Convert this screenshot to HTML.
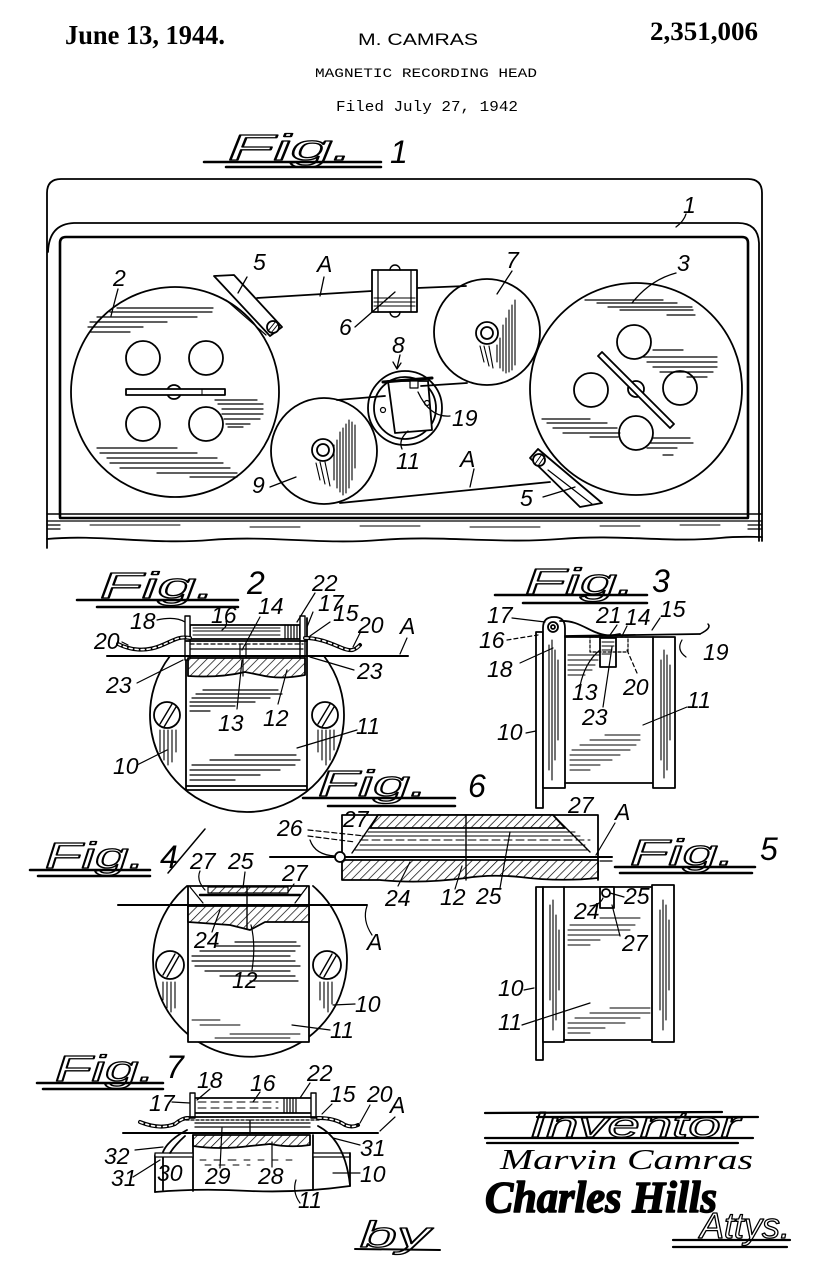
<!DOCTYPE html>
<html><head><meta charset="utf-8"><style>
html,body{margin:0;padding:0;background:#fff;}
svg{display:block;}
.l{font-family:"Liberation Sans",sans-serif;font-style:italic;font-size:23px;fill:#000;stroke:none;}
.f{font-family:"Liberation Sans",sans-serif;font-style:italic;font-size:36px;fill:none;stroke:#000;stroke-width:1.3px;}
.fn{font-family:"Liberation Sans",sans-serif;font-style:italic;font-size:32px;fill:#000;stroke:none;}
</style></head><body>
<svg width="816" height="1280" viewBox="0 0 816 1280" xmlns="http://www.w3.org/2000/svg">
<defs>
<pattern id="h" width="6" height="6" patternUnits="userSpaceOnUse" patternTransform="rotate(45)">
<rect width="6" height="6" fill="#fff"/>
<line x1="0" y1="0" x2="0" y2="6" stroke="#000" stroke-width="1.4"/>
</pattern>
</defs>
<rect width="816" height="1280" fill="#fff"/>

<!-- HEADER -->
<text x="65" y="44" font-family="Liberation Serif" font-weight="bold" font-size="27" textLength="160" lengthAdjust="spacingAndGlyphs">June 13, 1944.</text>
<text x="358" y="45" font-family="Liberation Sans" font-size="17" textLength="120" lengthAdjust="spacingAndGlyphs">M. CAMRAS</text>
<text x="650" y="40" font-family="Liberation Serif" font-weight="bold" font-size="26" textLength="108" lengthAdjust="spacingAndGlyphs">2,351,006</text>
<text x="315" y="77" font-family="Liberation Mono" font-size="13" textLength="222" lengthAdjust="spacingAndGlyphs">MAGNETIC RECORDING HEAD</text>
<text x="336" y="111" font-family="Liberation Mono" font-size="15" textLength="182" lengthAdjust="spacingAndGlyphs">Filed July 27, 1942</text>

<g stroke="#000" fill="none" stroke-width="1.8" stroke-linecap="round" stroke-linejoin="round">

<!-- FIG LABELS -->
<text class="f" x="228" y="160" textLength="125" lengthAdjust="spacingAndGlyphs">Fig.</text>
<text class="fn" x="390" y="163">1</text>
<path d="M204,162 L381,162 M226,167 L381,167" stroke-width="2.5"/>

<text class="f" x="100" y="598" textLength="115" lengthAdjust="spacingAndGlyphs">Fig.</text>
<text class="fn" x="247" y="594">2</text>
<path d="M77,600 L238,600 M97,607 L238,607" stroke-width="2.5"/>

<text class="f" x="525" y="594" textLength="110" lengthAdjust="spacingAndGlyphs">Fig.</text>
<text class="fn" x="652" y="592">3</text>
<path d="M495,595 L647,595 M523,603 L647,603" stroke-width="2.5"/>

<text class="f" x="45" y="868" textLength="100" lengthAdjust="spacingAndGlyphs">Fig.</text>
<text class="fn" x="160" y="868">4</text>
<path d="M30,870 L150,870 M38,876 L150,876" stroke-width="2.5"/>
<path d="M168,873 L205,829" stroke-width="1.5"/>

<text class="f" x="630" y="865" textLength="105" lengthAdjust="spacingAndGlyphs">Fig.</text>
<text class="fn" x="760" y="860">5</text>
<path d="M615,867 L755,867 M620,873 L752,873" stroke-width="2.5"/>

<text class="f" x="318" y="796" textLength="110" lengthAdjust="spacingAndGlyphs">Fig.</text>
<text class="fn" x="468" y="797">6</text>
<path d="M303,798 L455,798 M328,806 L455,806" stroke-width="2.5"/>

<text class="f" x="55" y="1081" textLength="100" lengthAdjust="spacingAndGlyphs">Fig.</text>
<text class="fn" x="166" y="1078">7</text>
<path d="M37,1083 L163,1083 M43,1089 L163,1089" stroke-width="2.5"/>

<!-- ================= FIG 1 ================= -->
<path d="M47,548 L47,193 Q47,179 61,179 L748,179 Q762,179 762,193 L762,541"/>
<path d="M48,252 Q49,224 74,223 L738,223 Q758,223 759,243 L759,541"/>
<path d="M60,517 L60,243 Q60,237 66,237 L742,237 Q748,237 748,243 L748,517" stroke-width="2.6"/>
<path d="M47,514 L762,514" stroke-width="1.4"/>
<path d="M60,518 L748,518" stroke-width="2.4"/>
<path d="M47,521 L762,521" stroke-width="1.2"/>
<path d="M47,525 L60,525 M47,529 L60,529 M748,525 L762,525 M748,529 L762,529" stroke-width="1.2"/>
<path d="M90,525 L180,525 M250,527 L300,527 M360,526 L420,526 M470,527 L540,527 M600,526 L640,526 M680,525 L720,525" stroke-width="1"/>
<path d="M47,539 C100,534 150,545 210,540 C270,535 320,545 380,540 C440,535 500,544 560,539 C620,534 670,543 720,538 C740,536 752,537 762,537"/>

<!-- wheel 2 -->
<ellipse cx="175" cy="392" rx="104" ry="105"/>
<circle cx="143" cy="358" r="17"/><circle cx="206" cy="358" r="17"/>
<circle cx="143" cy="424" r="17"/><circle cx="206" cy="424" r="17"/>
<circle cx="174" cy="392" r="7"/>
<rect x="126" y="389" width="99" height="6" fill="#fff"/>
<path d="M202,389 L202,395" stroke-width="1"/>
<g stroke-width="1.2">
<path d="M117,308 L213,308 M110,312 L212,312 M97,317 L197,317 M90,322 L167,322 M88,327 L143,327 M90,332 L130,332"/>
<path d="M97,448 L177,448 M100,453 L197,453 M107,458 L217,458 M110,463 L223,463 M120,468 L230,468 M157,473 L237,473 M190,477 L237,477"/>
<path d="M215,400 L257,400 M218,404 L263,404 M222,409 L263,409 M222,414 L263,414 M224,419 L260,419 M226,424 L250,424 M228,427 L243,427"/>
</g>

<!-- guide 5 top -->
<polygon points="214,276 234,275 282,327 270,336" fill="#fff"/>
<path d="M226,300 L266,335" stroke-width="1.2"/>
<circle cx="273" cy="327" r="6" fill="#fff"/>
<path d="M268,331 L276,321 M271,333 L279,323" stroke-width="1"/>

<!-- tape top -->
<path d="M257,298 L372,291 M417,288 L466,286"/>

<!-- element 6 -->
<rect x="372" y="270" width="45" height="42" fill="#fff"/>
<path d="M378,270 L378,312 M411,270 L411,312" stroke-width="1.3"/>
<path d="M374,298 L415,298 M374,302 L415,302 M374,306 L415,306" stroke-width="1.1"/>
<path d="M390,270 A5,5 0 0 1 400,270 M390,312 A5,5 0 0 0 400,312" stroke-width="1.4"/>

<!-- wheel 7 -->
<circle cx="487" cy="332" r="53"/>
<circle cx="487" cy="333" r="11"/><circle cx="487" cy="333" r="6"/>
<path d="M497,345 L497,362 M500,338 L500,368 M503,325 L503,371 M506,318 L506,373 M509,310 L509,372 M512,305 L512,370 M515,300 L515,365 M480,346 L484,362 M484,346 L489,366 M489,346 L493,368" stroke-width="1.1"/>

<!-- wheel 9 -->
<circle cx="324" cy="451" r="53"/>
<circle cx="323" cy="450" r="11"/><circle cx="323" cy="450" r="6"/>
<path d="M334,445 L334,480 M337,440 L337,488 M340,432 L340,492 M343,428 L343,495 M346,424 L346,493 M349,420 L349,488 M352,422 L352,480 M355,425 L355,468 M316,463 L320,480 M320,462 L325,484 M325,462 L330,486" stroke-width="1.1"/>

<!-- head 8 -->
<circle cx="405" cy="408" r="37"/>
<circle cx="405" cy="408" r="31"/>
<polygon points="388,381 428,381 432,430 395,433" fill="#fff"/>
<path d="M383,382 L432,378" stroke-width="3"/>
<rect x="410" y="381" width="8" height="7" fill="#fff" stroke-width="1.2"/>
<circle cx="383" cy="410" r="2.5" stroke-width="1.2"/><circle cx="427" cy="403" r="2.5" stroke-width="1.2"/>

<!-- tapes -->
<path d="M337,400 L385,396 M421,386 L467,383 M340,503 L550,482"/>

<!-- guide 5 lower -->
<polygon points="530,458 538,449 602,503 580,507" fill="#fff"/>
<path d="M548,470 L592,504" stroke-width="1.2"/>
<circle cx="539" cy="460" r="6" fill="#fff"/>
<path d="M535,464 L542,454 M538,466 L545,456" stroke-width="1"/>

<!-- wheel 3 -->
<circle cx="636" cy="389" r="106"/>
<circle cx="634" cy="342" r="17"/><circle cx="591" cy="390" r="17"/>
<circle cx="680" cy="388" r="17"/><circle cx="636" cy="433" r="17"/>
<circle cx="636" cy="389" r="8"/>
<polygon points="602,352 674,424 670,428 598,356" fill="#fff"/>
<g stroke-width="1.2">
<path d="M585,300 L663,300 M597,303 L677,303 M608,307 L692,307 M620,310 L693,310 M667,315 L695,315"/>
<path d="M653,350 L683,350 M643,357 L717,357 M647,362 L717,362 M653,367 L717,367 M660,372 L713,372 M687,377 L707,377"/>
<path d="M542,419 L590,419 M547,423 L607,423 M553,428 L617,428 M563,433 L620,433 M590,437 L618,437"/>
<path d="M653,438 L690,438 M650,443 L693,443 M647,448 L677,448 M663,455 L673,455"/>
</g>

<!-- fig1 labels -->
<text class="l" x="113" y="286">2</text>
<path d="M118,289 Q115,300 111,316" stroke-width="1.3"/>
<text class="l" x="253" y="270">5</text>
<path d="M247,277 L238,293" stroke-width="1.3"/>
<text class="l" x="317" y="272">A</text>
<path d="M324,277 L320,296" stroke-width="1.3"/>
<text class="l" x="339" y="335">6</text>
<path d="M355,327 L395,292" stroke-width="1.3"/>
<text class="l" x="506" y="268">7</text>
<path d="M512,271 L497,294" stroke-width="1.3"/>
<text class="l" x="677" y="271">3</text>
<path d="M676,273 Q650,280 632,303" stroke-width="1.3"/>
<text class="l" x="683" y="213">1</text>
<path d="M686,214 Q684,221 676,227" stroke-width="1.3"/>
<text class="l" x="392" y="353">8</text>
<path d="M400,355 L397,368 M393,362 L397,369 L401,363" stroke-width="1.3"/>
<text class="l" x="452" y="426">19</text>
<path d="M450,416 Q430,418 418,392" stroke-width="1.3"/>
<text class="l" x="396" y="469">11</text>
<path d="M402,449 Q398,440 408,431" stroke-width="1.3"/>
<text class="l" x="252" y="493">9</text>
<path d="M270,487 L296,477" stroke-width="1.3"/>
<text class="l" x="460" y="467">A</text>
<path d="M474,469 L470,487" stroke-width="1.3"/>
<text class="l" x="520" y="506">5</text>
<path d="M543,497 Q560,492 575,487" stroke-width="1.3"/>

<!-- ================= FIG 2 ================= -->
<path d="M170,656 A97,97 0 1 0 324,656"/>
<rect x="186" y="618" width="121" height="172" fill="#fff" stroke="none"/>
<path d="M186,618 L186,790 M307,618 L307,790 M186,786 L307,786 M186,790 L307,790"/>
<rect x="190" y="625" width="110" height="14" fill="#fff"/>
<path d="M193,628 L280,628 M193,631 L280,631 M193,635 L280,635" stroke-width="1"/>
<path d="M285,625 L285,639 M288,625 L288,639 M291,625 L291,639 M294,625 L294,639 M297,625 L297,639" stroke-width="1.2"/>
<rect x="185" y="616" width="5" height="44" fill="#fff" stroke-width="1.4"/>
<rect x="300" y="616" width="5" height="44" fill="#fff" stroke-width="1.4"/>
<path d="M186,641 L307,641"/>
<path d="M190,644 L303,644" stroke-dasharray="4 3" stroke-width="1.3"/>
<path d="M190,649 L303,649" stroke-width="1.2"/>
<path d="M240,644 L240,658 M246,644 L246,658" stroke-width="1.2"/>
<path d="M107,656 L408,656" stroke-width="2"/>
<path d="M188,658 L305,658 L305,675 Q280,680 260,675 L245,672 Q220,678 188,676 Z" fill="url(#h)"/>
<path d="M243,658 L243,676" stroke-width="1.2"/>
<path d="M118,644 C130,650 145,652 160,646 S178,636 190,638" stroke-width="4"/>
<path d="M118,644 C130,650 145,652 160,646 S178,636 190,638" stroke-width="1.6" stroke="#fff" stroke-dasharray="3 3"/>
<path d="M305,638 C320,638 332,644 342,648 S355,650 360,645" stroke-width="4"/>
<path d="M305,638 C320,638 332,644 342,648 S355,650 360,645" stroke-width="1.6" stroke="#fff" stroke-dasharray="3 3"/>
<circle cx="167" cy="715" r="13" fill="#fff"/>
<path d="M160,724 L172,704 M164,727 L176,707" stroke-width="1.4"/>
<circle cx="325" cy="715" r="13" fill="#fff"/>
<path d="M318,724 L330,704 M322,727 L334,707" stroke-width="1.4"/>
<path d="M160,730 L160,752 M164,730 L164,760 M168,730 L168,765 M172,730 L172,762 M176,730 L176,752 M318,730 L318,752 M322,730 L322,760 M326,730 L326,765 M330,730 L330,760 M334,730 L334,750" stroke-width="1.1"/>
<g stroke-width="1.2">
<path d="M203,690 L278,690 M196,694 L282,694 M192,698 L270,698 M190,702 L255,702 M190,706 L235,706 M190,711 L210,711"/>
<path d="M235,755 L296,755 M210,760 L300,760 M192,765 L295,765 M190,770 L280,770 M190,775 L260,775 M190,780 L235,780"/>
</g>
<text class="l" x="130" y="629">18</text>
<path d="M157,620 Q175,616 185,622" stroke-width="1.2"/>
<text class="l" x="211" y="623">16</text>
<path d="M226,621 Q228,626 222,630" stroke-width="1.2"/>
<text class="l" x="258" y="614">14</text>
<path d="M260,617 L242,650" stroke-width="1.2"/>
<text class="l" x="312" y="591">22</text>
<path d="M315,593 L297,622" stroke-width="1.2"/>
<text class="l" x="318" y="611">17</text>
<path d="M313,612 L307,627" stroke-width="1.2"/>
<text class="l" x="333" y="621">15</text>
<path d="M330,622 L310,636" stroke-width="1.2"/>
<text class="l" x="358" y="633">20</text>
<path d="M360,633 L353,647" stroke-width="1.2"/>
<text class="l" x="400" y="634">A</text>
<path d="M407,638 L400,654" stroke-width="1.2"/>
<text class="l" x="94" y="649">20</text>
<path d="M122,642 L128,645" stroke-width="1.2"/>
<text class="l" x="106" y="693">23</text>
<path d="M137,683 L183,660" stroke-width="1.2"/>
<text class="l" x="357" y="679">23</text>
<path d="M354,670 L310,657" stroke-width="1.2"/>
<text class="l" x="218" y="731">13</text>
<path d="M237,709 L242,660" stroke-width="1.2"/>
<text class="l" x="263" y="726">12</text>
<path d="M278,704 L287,670" stroke-width="1.2"/>
<text class="l" x="356" y="734">11</text>
<path d="M357,730 L297,748" stroke-width="1.2"/>
<text class="l" x="113" y="774">10</text>
<path d="M137,765 L167,750" stroke-width="1.2"/>

<!-- ================= FIG 3 ================= -->
<rect x="536" y="632" width="7" height="176" fill="#fff"/>
<path d="M543,788 L543,628 Q543,617 554,617 Q565,617 565,628 L565,788 Z" fill="#fff"/>
<circle cx="553" cy="627" r="5"/><circle cx="553" cy="627" r="2"/>
<path d="M565,637 L653,637 M565,783 L653,783"/>
<rect x="653" y="637" width="22" height="151" fill="#fff"/>
<rect x="600" y="638" width="16" height="29" fill="#fff"/>
<path d="M602,642 L614,642 M602,646 L614,646 M602,650 L612,650 M602,654 L610,654" stroke-width="1"/>
<rect x="590" y="637" width="38" height="15" stroke-dasharray="3 2" stroke-width="1.2"/>
<path d="M560,621 C575,620 585,628 595,632 S610,636 620,634"/>
<path d="M565,636 L700,634"/>
<path d="M700,634 Q712,628 708,624" stroke-width="1.5"/>
<path d="M682,640 Q676,650 686,657" stroke-width="1.2"/>
<g stroke-width="1.1">
<path d="M549,645 L549,770 M552,640 L552,780 M555,650 L555,760 M558,660 L558,740"/>
<path d="M661,660 L661,760 M664,650 L664,778 M667,655 L667,770 M670,665 L670,740"/>
<path d="M568,655 L600,655 M568,660 L598,660 M568,665 L595,665 M568,670 L592,670 M568,675 L585,675"/>
<path d="M605,735 L640,735 M590,740 L640,740 M580,745 L636,745 M572,750 L630,750 M570,755 L620,755 M570,760 L612,760 M570,765 L600,765 M570,770 L590,770"/>
</g>
<text class="l" x="487" y="623">17</text>
<path d="M512,618 L545,622" stroke-width="1.2"/>
<text class="l" x="479" y="648">16</text>
<path d="M507,640 L538,635" stroke-width="1.2" stroke-dasharray="4 3"/>
<text class="l" x="487" y="677">18</text>
<path d="M520,663 L553,648" stroke-width="1.2"/>
<text class="l" x="596" y="623">21</text>
<path d="M617,625 L610,635" stroke-width="1.2"/>
<text class="l" x="625" y="625">14</text>
<path d="M627,626 L622,636" stroke-width="1.2"/>
<text class="l" x="660" y="617">15</text>
<path d="M660,618 L652,630" stroke-width="1.2"/>
<text class="l" x="703" y="660">19</text>
<text class="l" x="572" y="700">13</text>
<path d="M580,686 Q585,662 600,650" stroke-width="1.2"/>
<text class="l" x="623" y="695">20</text>
<path d="M637,673 L627,650" stroke-width="1.2" stroke-dasharray="4 3"/>
<text class="l" x="582" y="725">23</text>
<path d="M603,707 L612,647" stroke-width="1.2"/>
<text class="l" x="687" y="708">11</text>
<path d="M687,707 L643,725" stroke-width="1.2"/>
<text class="l" x="497" y="740">10</text>
<path d="M526,733 L536,731" stroke-width="1.2"/>

<!-- ================= FIG 6 ================= -->
<path d="M342,856 L342,815 L598,815 L598,880"/>
<path d="M378,815 L553,815 L565,828 L370,828 Z" fill="url(#h)"/>
<path d="M378,815 L352,853 M553,815 L590,852" stroke-width="1.4"/>
<path d="M368,832 L575,832 M362,836 L580,836 M360,845 L585,845 M355,850 L588,850" stroke-width="1"/>
<path d="M360,840 L590,840" stroke-width="1" stroke-dasharray="8 4"/>
<path d="M270,857 L612,857" stroke-width="2"/>
<path d="M600,861 L612,861" stroke-width="1.2"/>
<path d="M342,860 L598,860 L598,878 Q560,882 520,877 Q490,874 466,878 Q420,884 380,880 L342,880 Z" fill="url(#h)"/>
<path d="M466,815 L466,880" stroke-width="1.4"/>
<circle cx="340" cy="857" r="5" fill="#fff"/>
<path d="M308,830 L365,836 M308,836 L355,842" stroke-dasharray="5 3" stroke-width="1.2"/>
<path d="M310,840 Q315,855 335,856" stroke-width="1.2"/>
<text class="l" x="277" y="836">26</text>
<text class="l" x="343" y="827">27</text>
<text class="l" x="568" y="813">27</text>
<text class="l" x="615" y="820">A</text>
<path d="M615,823 L596,855" stroke-width="1.2"/>
<text class="l" x="385" y="906">24</text>
<path d="M398,886 L410,862" stroke-width="1.2"/>
<text class="l" x="440" y="905">12</text>
<path d="M455,889 L462,866" stroke-width="1.2"/>
<text class="l" x="476" y="904">25</text>
<path d="M500,888 Q505,860 510,832" stroke-width="1.2"/>

<!-- ================= FIG 4 ================= -->
<path d="M187,886 A97,97 0 1 0 313,886"/>
<rect x="188" y="886" width="121" height="156" fill="#fff"/>
<rect x="208" y="887" width="80" height="6" fill="url(#h)" stroke-width="1.2"/>
<path d="M200,895 L300,895" stroke-width="2.4"/>
<path d="M190,887 L203,903 M307,887 L295,903" stroke-width="1.2"/>
<path d="M118,905 L367,905" stroke-width="2"/>
<path d="M367,906 Q362,920 372,935" stroke-width="1.2"/>
<path d="M188,906 L309,906 L309,922 L265,922 L250,930 L230,925 L188,922 Z" fill="url(#h)"/>
<path d="M247,887 L247,929" stroke-width="1.4"/>
<circle cx="170" cy="965" r="14" fill="#fff"/>
<path d="M163,975 L175,954 M167,977 L179,956" stroke-width="1.4"/>
<circle cx="327" cy="965" r="14" fill="#fff"/>
<path d="M320,975 L332,954 M324,977 L336,956" stroke-width="1.4"/>
<path d="M163,982 L163,1000 M167,982 L167,1008 M171,982 L171,1012 M175,982 L175,1008 M320,982 L320,1000 M324,982 L324,1008 M328,982 L328,1012 M332,982 L332,1004" stroke-width="1.1"/>
<g stroke-width="1.2">
<path d="M235,942 L296,942 M215,946 L300,946 M200,951 L295,951 M192,956 L290,956 M192,961 L295,961 M195,966 L300,966 M205,971 L290,971 M220,976 L295,976 M250,981 L298,981"/>
<path d="M192,1020 L220,1020 M200,1025 L240,1025 M230,1034 L300,1034 M215,1038 L290,1038" stroke-width="0.9"/>
</g>
<text class="l" x="190" y="869">27</text>
<path d="M200,871 Q196,880 205,890" stroke-width="1.2"/>
<text class="l" x="228" y="869">25</text>
<path d="M245,872 L243,888" stroke-width="1.2"/>
<text class="l" x="282" y="881">27</text>
<path d="M294,884 L288,892" stroke-width="1.2"/>
<text class="l" x="194" y="948">24</text>
<path d="M212,932 L220,910" stroke-width="1.2"/>
<text class="l" x="232" y="988">12</text>
<path d="M252,970 Q256,945 251,925" stroke-width="1.2"/>
<text class="l" x="367" y="950">A</text>
<text class="l" x="355" y="1012">10</text>
<path d="M355,1004 L333,1005" stroke-width="1.2"/>
<text class="l" x="330" y="1038">11</text>
<path d="M330,1030 L292,1025" stroke-width="1.2"/>

<!-- ================= FIG 5 ================= -->
<rect x="536" y="887" width="7" height="173" fill="#fff"/>
<rect x="543" y="887" width="21" height="155" fill="#fff"/>
<path d="M564,887 L652,887 M564,1040 L652,1040"/>
<rect x="652" y="885" width="22" height="157" fill="#fff"/>
<rect x="600" y="887" width="14" height="21" fill="#fff"/>
<circle cx="606" cy="893" r="4"/>
<g stroke-width="1.1">
<path d="M550,905 L550,1000 M553,900 L553,1030 M556,915 L556,1020 M559,930 L559,990"/>
<path d="M660,910 L660,1010 M663,900 L663,1030 M666,905 L666,1020 M669,920 L669,990"/>
<path d="M600,918 L640,918 M570,925 L635,925 M568,930 L630,930 M568,935 L620,935 M568,940 L600,940 M568,945 L590,945"/>
<path d="M610,1008 L650,1008 M590,1013 L650,1013 M575,1018 L640,1018 M568,1023 L625,1023 M568,1028 L605,1028 M568,1033 L590,1033"/>
</g>
<text class="l" x="624" y="904">25</text>
<path d="M624,897 L610,893" stroke-width="1.2"/>
<text class="l" x="574" y="919">24</text>
<path d="M590,906 Q600,905 603,898" stroke-width="1.2"/>
<text class="l" x="622" y="951">27</text>
<path d="M620,936 L612,905" stroke-width="1.2"/>
<text class="l" x="498" y="996">10</text>
<path d="M524,990 L534,988" stroke-width="1.2"/>
<text class="l" x="498" y="1030">11</text>
<path d="M522,1025 L590,1003" stroke-width="1.2"/>

<!-- ================= FIG 7 ================= -->
<rect x="193" y="1098" width="120" height="15" fill="#fff"/>
<rect x="190" y="1093" width="5" height="25" fill="#fff" stroke-width="1.4"/>
<rect x="311" y="1093" width="5" height="25" fill="#fff" stroke-width="1.4"/>
<path d="M284,1098 L284,1113 M287,1098 L287,1113 M290,1098 L290,1113 M293,1098 L293,1113 M296,1098 L296,1113" stroke-width="1.2"/>
<path d="M198,1102 L278,1102 M198,1108 L278,1108" stroke-width="1" stroke-dasharray="8 5"/>
<path d="M186,1117 L320,1117"/>
<path d="M186,1120 L320,1120" stroke-dasharray="3 2" stroke-width="1.3"/>
<path d="M140,1122 Q160,1130 175,1124 Q182,1118 188,1118" stroke-width="4"/>
<path d="M140,1122 Q160,1130 175,1124 Q182,1118 188,1118" stroke-width="1.6" stroke="#fff" stroke-dasharray="3 3"/>
<path d="M318,1118 Q335,1118 345,1125 Q352,1128 358,1125" stroke-width="4"/>
<path d="M318,1118 Q335,1118 345,1125 Q352,1128 358,1125" stroke-width="1.6" stroke="#fff" stroke-dasharray="3 3"/>
<path d="M195,1123 L310,1123 M195,1127 L310,1127" stroke-width="1.3"/>
<path d="M250,1120 L250,1134" stroke-width="1.3"/>
<path d="M123,1133 L378,1133" stroke-width="2"/>
<path d="M193,1135 L310,1135 L310,1145 Q290,1148 270,1144 L250,1146 Q220,1150 193,1146 Z" fill="url(#h)"/>
<path d="M193,1135 L193,1191 M313,1135 L313,1190"/>
<path d="M155,1192 Q200,1188 250,1191 Q300,1193 350,1186"/>
<path d="M155,1155 L155,1192 M163,1153 L163,1190"/>
<rect x="155" y="1153" width="38" height="4" fill="#fff" stroke-width="1.3"/>
<rect x="313" y="1153" width="37" height="4" fill="#fff" stroke-width="1.3"/>
<path d="M350,1153 L350,1186"/>
<path d="M163,1152 Q168,1140 187,1130 M170,1153 Q175,1145 185,1136"/>
<path d="M318,1126 Q345,1140 350,1185"/>
<path d="M200,1160 L240,1160 M205,1165 L250,1165 M230,1160 L300,1160" stroke-width="0.9" stroke-dasharray="6 8"/>
<text class="l" x="149" y="1111">17</text>
<path d="M172,1102 L190,1103" stroke-width="1.2"/>
<text class="l" x="197" y="1088">18</text>
<path d="M210,1089 L197,1100" stroke-width="1.2"/>
<text class="l" x="250" y="1091">16</text>
<path d="M260,1092 L253,1102" stroke-width="1.2"/>
<text class="l" x="307" y="1081">22</text>
<path d="M310,1083 L300,1098" stroke-width="1.2"/>
<text class="l" x="330" y="1102">15</text>
<path d="M332,1104 L322,1114" stroke-width="1.2"/>
<text class="l" x="367" y="1102">20</text>
<path d="M370,1105 L360,1123" stroke-width="1.2"/>
<text class="l" x="390" y="1113">A</text>
<path d="M395,1117 L380,1131" stroke-width="1.2"/>
<text class="l" x="104" y="1164">32</text>
<path d="M135,1150 L163,1147" stroke-width="1.2"/>
<text class="l" x="111" y="1186">31</text>
<path d="M133,1177 L160,1160" stroke-width="1.2"/>
<text class="l" x="157" y="1181">30</text>
<text class="l" x="205" y="1184">29</text>
<path d="M220,1168 L222,1128" stroke-width="1.2"/>
<text class="l" x="258" y="1184">28</text>
<path d="M272,1167 L272,1142" stroke-width="1.2"/>
<text class="l" x="360" y="1156">31</text>
<path d="M360,1145 L333,1138" stroke-width="1.2"/>
<text class="l" x="360" y="1182">10</text>
<path d="M360,1173 L333,1173" stroke-width="1.2"/>
<text class="l" x="298" y="1208">11</text>
<path d="M300,1203 Q292,1192 296,1180" stroke-width="1.2"/>

<!-- by -->
<text class="f" x="360" y="1247" textLength="70" lengthAdjust="spacingAndGlyphs">by</text>
<path d="M355,1249 L440,1250" stroke-width="2"/>

<!-- INVENTOR BLOCK -->
<path d="M485,1113 L722,1112 M537,1117 L758,1117" stroke-width="2.2"/>
<text class="f" x="530" y="1137" textLength="210" lengthAdjust="spacingAndGlyphs">Inventor</text>
<path d="M485,1138 L753,1138 M487,1143 L738,1143" stroke-width="2.2"/>
<text x="500" y="1169" font-family="Liberation Serif" font-style="italic" font-size="28" textLength="253" lengthAdjust="spacingAndGlyphs" fill="#000" stroke="none">Marvin Camras</text>
<text x="485" y="1212" font-family="Liberation Serif" font-style="italic" font-weight="bold" font-size="44" textLength="232" lengthAdjust="spacingAndGlyphs" fill="#000" stroke="#000" stroke-width="1.5">Charles Hills</text>
<text class="f" x="700" y="1238" textLength="90" lengthAdjust="spacingAndGlyphs">Attys.</text>
<path d="M673,1240 L790,1240 M673,1247 L787,1247" stroke-width="2.2"/>

</g>
</svg>
</body></html>
